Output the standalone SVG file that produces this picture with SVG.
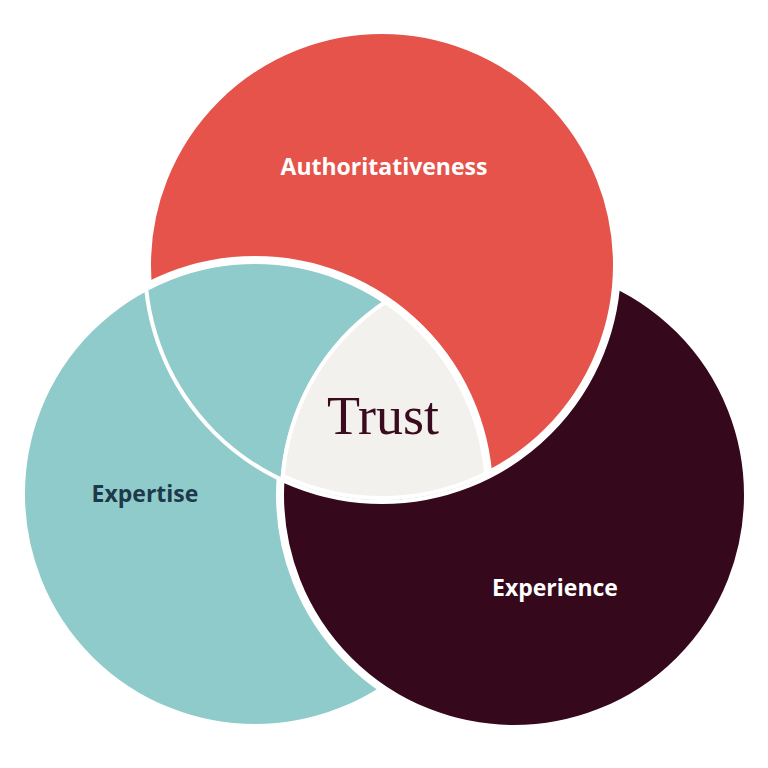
<svg xmlns="http://www.w3.org/2000/svg" width="768" height="768" viewBox="0 0 768 768">
<style>
.lbl{font-family:"Open Sans","Liberation Sans",sans-serif;font-weight:bold;font-size:23px;text-anchor:middle}
.c{stroke:#fff;stroke-width:8}
</style>
<defs>
<clipPath id="cr"><circle cx="382" cy="265" r="235"/></clipPath>
<clipPath id="ct"><circle cx="255" cy="494" r="234"/></clipPath>
<clipPath id="cd"><circle cx="514" cy="495" r="234"/></clipPath>
</defs>
<rect width="768" height="768" fill="#fff"/>
<g id="expertise-circle"><circle class="c" cx="255" cy="494" r="234" fill="#8fcbca"/></g>
<g id="experience-circle"><circle class="c" cx="514" cy="495" r="234" fill="#36081c"/></g>
<g id="authoritativeness-circle"><circle class="c" cx="382" cy="265" r="235" fill="#e5534b"/></g>
<g clip-path="url(#cr)"><circle class="c" cx="255" cy="494" r="234" fill="#8fcbca"/></g>
<g id="trust">
<g clip-path="url(#cr)"><g clip-path="url(#ct)"><g clip-path="url(#cd)">
<rect width="768" height="768" fill="#f2f1ee"/>
<circle cx="382" cy="265" r="235" fill="none" class="c"/>
<circle cx="255" cy="494" r="234" fill="none" class="c"/>
<circle cx="514" cy="495" r="234" fill="none" class="c"/>
</g></g></g>
<text x="383" y="434" font-family="Liberation Serif,serif" font-size="54" text-anchor="middle" fill="#3a0a1e">Trust</text>
</g>
<text class="lbl" x="384" y="175" fill="#fff">Authoritativeness</text>
<text class="lbl" x="145" y="502" fill="#1e3a4a">Expertise</text>
<text class="lbl" x="555" y="596" fill="#fff">Experience</text>
</svg>
